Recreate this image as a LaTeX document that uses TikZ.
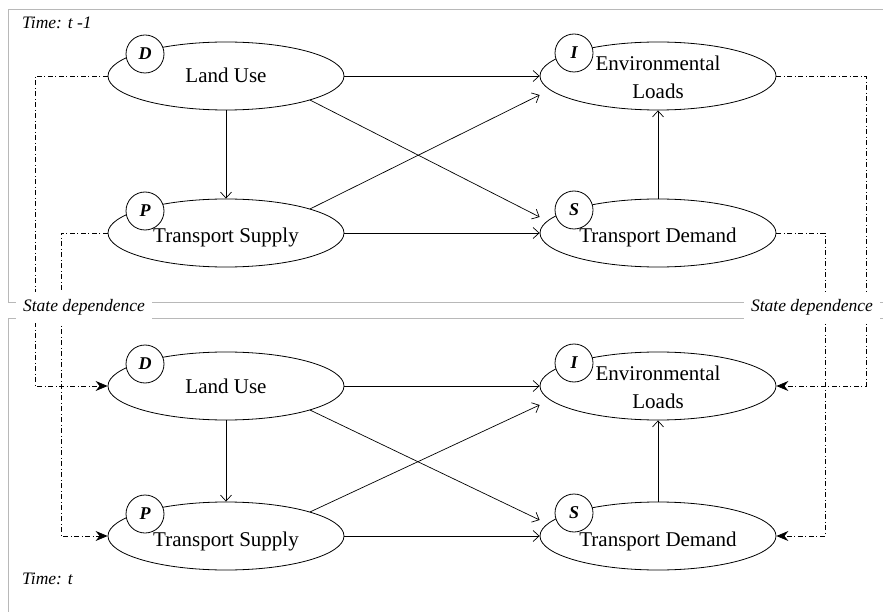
\documentclass[tikz,border=0pt]{standalone}
\usepackage{fontspec}
\setmainfont{Liberation Serif}
\usetikzlibrary{shapes.geometric,arrows.meta,calc}
\begin{document}
\begin{tikzpicture}[x=1pt,y=-1pt,
  frame/.style={draw=black!28, line width=0.8pt},
  ell/.style={ellipse, draw, line width=0.8pt, minimum width=236pt, minimum height=68pt, inner sep=0pt},
  lbl/.style={font=\fontsize{21}{28}\selectfont, align=center, inner sep=0pt},
  tag/.style={circle, draw, fill=white, line width=0.8pt, minimum size=38pt, inner sep=0pt, font=\fontsize{18}{18}\selectfont\bfseries\itshape},
  arr/.style={draw, line width=0.7pt, -{Straight Barb[length=6pt,width=11pt]}},
  dd/.style={draw, line width=0.7pt, dash pattern=on 5pt off 2.5pt on 1pt off 2.5pt, -{Stealth[length=12pt,width=10pt,inset=4pt]}},
  note/.style={font=\fontsize{17.5}{17.5}\selectfont\itshape, inner sep=0pt},
  sbox/.style={fill=white, minimum width=136pt, minimum height=31pt, inner sep=0pt, font=\fontsize{17.5}{17.5}\selectfont\itshape}
]
\useasboundingbox (0,0) rectangle (883,612);
% frames
\draw[frame] (883,9) -- (8,9) -- (8,302) -- (883,302);
\draw[frame] (883,318) -- (8,318) -- (8,612);
% ellipses
\node[ell] (LU1) at (226,76) {};
\node[ell] (TS1) at (226,233) {};
\node[ell] (EL1) at (658,76) {};
\node[ell] (TD1) at (658,233) {};
\node[ell] (LU2) at (226,386) {};
\node[ell] (TS2) at (226,536) {};
\node[ell] (EL2) at (658,386) {};
\node[ell] (TD2) at (658,536) {};
% texts
\node[lbl, anchor=base] (LU1t) at ([yshift=-7pt]LU1.center) {Land Use};
\node[lbl, anchor=base] (TS1t) at ([yshift=-10pt]TS1.center) {Transport Supply};
\node[lbl] (EL1t) at ([yshift=-1pt]EL1.center) {Environmental\\Loads};
\node[lbl, anchor=base] (TD1t) at ([yshift=-10pt]TD1.center) {Transport Demand};
\node[lbl, anchor=base] (LU2t) at ([yshift=-7pt]LU2.center) {Land Use};
\node[lbl, anchor=base] (TS2t) at ([yshift=-10pt]TS2.center) {Transport Supply};
\node[lbl] (EL2t) at ([yshift=-1pt]EL2.center) {Environmental\\Loads};
\node[lbl, anchor=base] (TD2t) at ([yshift=-10pt]TD2.center) {Transport Demand};
% solid arrows
\foreach \i in {1,2}{
  \draw[arr] (LU\i.east) -- (EL\i.west);
  \draw[arr] (LU\i.south) -- (TS\i.north);
  \draw[arr] (LU\i.344) -- ([yshift=16pt]TD\i.west);
  \draw[arr] (TS\i.16) -- ([yshift=-19pt]EL\i.west);
  \draw[arr] (TS\i.east) -- (TD\i.west);
  \draw[arr] (TD\i.north) -- (EL\i.south);
}
% tags
\foreach \i in {1,2}{
  \node[tag] (D\i) at ($(LU\i.center)+(-81,-22)$) {D};
  \node[tag] (P\i) at ($(TS\i.center)+(-81,-22)$) {P};
  \node[tag] (I\i) at ($(EL\i.center)+(-84,-23)$) {I};
  \node[tag] (S\i) at ($(TD\i.center)+(-84,-23)$) {S};
}
% state dependence connectors
\coordinate (xa) at (35,0);
\coordinate (xb) at (61,0);
\coordinate (xc) at (825,0);
\coordinate (xd) at (866,0);
\draw[dd] (LU1.west) -- (LU1.west -| xa) -- (LU2.west -| xa) -- (LU2.west);
\draw[dd] (TS1.west) -- (TS1.west -| xb) -- (TS2.west -| xb) -- (TS2.west);
\draw[dd] (EL1.east) -- (EL1.east -| xd) -- (EL2.east -| xd) -- (EL2.east);
\draw[dd] (TD1.east) -- (TD1.east -| xc) -- (TD2.east -| xc) -- (TD2.east);
% labels
\node[sbox] (SD1) at (84,307.5) {State dependence};
\node[sbox] (SD2) at (812,307.5) {State dependence};
\node[note, anchor=west] (T1) at (22,23) {Time: t -1};
\node[note, anchor=west] (T2) at (22,579) {Time: t};
\end{tikzpicture}
\end{document}
